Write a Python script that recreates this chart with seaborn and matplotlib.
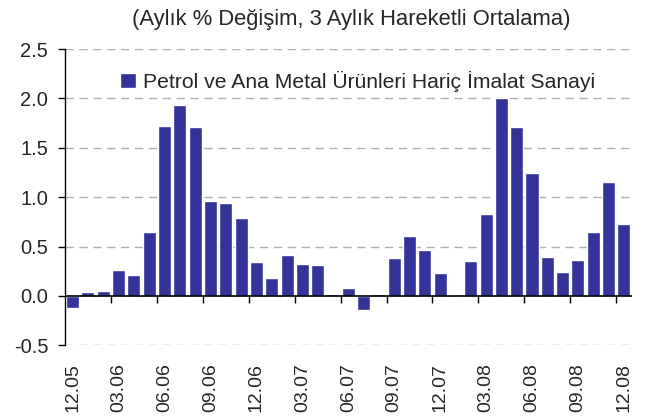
import numpy as np
import pandas as pd
import matplotlib
matplotlib.use("Agg")
import matplotlib.pyplot as plt
import seaborn as sns

# monthly data, 12.05 - 12.08
months = ["12.05", "01.06", "02.06", "03.06", "04.06", "05.06", "06.06", "07.06", "08.06",
          "09.06", "10.06", "11.06", "12.06", "01.07", "02.07", "03.07", "04.07", "05.07",
          "06.07", "07.07", "08.07", "09.07", "10.07", "11.07", "12.07", "01.08", "02.08",
          "03.08", "04.08", "05.08", "06.08", "07.08", "08.08", "09.08", "10.08", "11.08",
          "12.08"]
values = [-0.125, 0.044, 0.054, 0.26, 0.216, 0.645, 1.716, 1.93, 1.706,
          0.966, 0.946, 0.794, 0.348, 0.179, 0.419, 0.328, 0.318, 0.024,
          0.084, -0.139, 0.024, 0.389, 0.611, 0.47, 0.236, -0.014, 0.358,
          0.834, 2.0, 1.706, 1.24, 0.399, 0.247, 0.368, 0.652, 1.149,
          0.733]
series_name = "Petrol ve Ana Metal Ürünleri Hariç İmalat Sanayi"
title = "(Aylık % Değişim, 3 Aylık Hareketli Ortalama)"

df = pd.DataFrame({"ay": months, "deger": values})

sns.set_style("white")
plt.rcParams["font.family"] = ["Liberation Sans", "DejaVu Sans"]

fig = plt.figure(figsize=(6.46, 4.16), dpi=100)
ax = fig.add_axes([0.1006, 0.170, 0.877, 0.712])

sns.barplot(data=df, x="ay", y="deger", color="#333399", saturation=1,
            width=0.85, ax=ax, label=series_name)

ax.set_ylim(-0.5, 2.5)
ax.set_xlim(-0.5, len(months) - 0.5)
yt = np.arange(-0.5, 2.51, 0.5)
ax.set_yticks(yt)
ax.set_yticklabels([f"{v:.1f}" for v in yt], fontsize=14.5)
ax.yaxis.grid(True, color="#b0b0b0", linestyle=(0, (6, 4)), linewidth=1)
ax.set_axisbelow(True)

# labels every 3rd month
idx = np.arange(0, len(months), 3)
ax.set_xticks(idx)
ax.set_xticklabels([months[i] for i in idx], rotation=90, fontsize=14)
ax.tick_params(axis="x", length=0, pad=13)
ax.tick_params(axis="y", length=5, width=1, color="black", direction="out", left=True, pad=7)
ax.set_xlabel("")
ax.set_ylabel("")

for s in ["top", "right", "bottom"]:
    ax.spines[s].set_visible(False)
ax.spines["left"].set_color("black")
ax.spines["left"].set_linewidth(1)

# zero line + tick marks between categories
ax.axhline(0, color="black", linewidth=1.2, zorder=4)
zero = ax.secondary_xaxis(1 / 6)
zero.set_xticks(np.arange(2.5, len(months) - 1, 3))
zero.set_xticklabels([])
zero.tick_params(length=5, width=1, color="black", direction="out")
zero.spines["bottom"].set_visible(False)

leg = ax.legend(loc="center", bbox_to_anchor=(0.517, 0.892), frameon=False,
                fontsize=15.2, handlelength=0.75, handleheight=0.75, handletextpad=0.35)

fig.text(0.543, 0.952, title, ha="center", va="center", fontsize=15.8)

fig.savefig("out.png", dpi=100)
